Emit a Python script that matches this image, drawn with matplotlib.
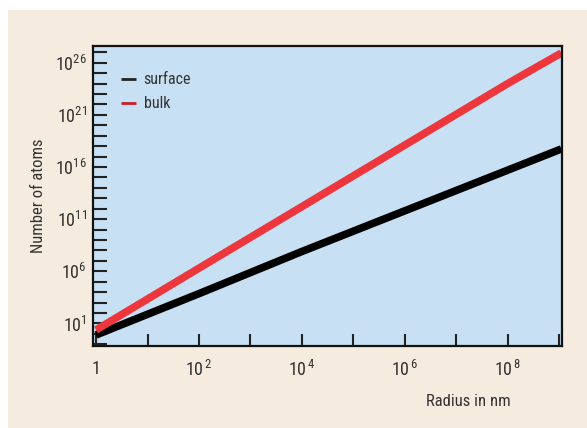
import math
import matplotlib
matplotlib.use("Agg")
import matplotlib.pyplot as plt
from matplotlib import font_manager
from matplotlib.patches import Rectangle
from matplotlib.ticker import FixedLocator, FuncFormatter, NullLocator

# values (log-log)
radius_nm = [1, 1e2, 1e4, 1e6, 1e8, 1.1e9]
bulk_atoms = [10**0.38, 10**6.3, 10**12.2, 10**18.1, 10**24.0, 10**26.93]
surface_atoms = [10**-0.1, 10**3.86, 10**7.9, 10**11.8, 10**15.7, 10**17.73]

x_label_exps = [0, 2, 4, 6, 8]
y_label_exps = [1, 6, 11, 16, 21, 26]

BEIGE = "#f5ecdf"
BLUE = "#c8e0f3"
RED = "#ee363d"


def pick_font():
    names = ["Roboto Condensed", "Liberation Sans Narrow",
             "DejaVu Sans Condensed", "Roboto", "DejaVu Sans"]
    for name in names:
        try:
            font_manager.findfont(name, fallback_to_default=False)
            return name
        except Exception:
            pass
    return "DejaVu Sans"


font = pick_font()
plt.rcParams["font.family"] = [font, "DejaVu Sans"]
plt.rcParams["mathtext.fontset"] = "custom"
plt.rcParams["mathtext.rm"] = font
plt.rcParams["mathtext.it"] = font
plt.rcParams["mathtext.default"] = "rm"


def xfmt(v, pos):
    e = int(round(math.log10(v)))
    if e not in x_label_exps:
        return ""
    if e == 0:
        return "1"
    return r"$10^{\,%d}$" % e


def yfmt(v, pos):
    e = int(round(math.log10(v)))
    if e not in y_label_exps:
        return ""
    return r"$10^{%d}$" % e


fig = plt.figure(figsize=(5.87, 4.28), dpi=100, facecolor="white")
fig.patches.append(Rectangle((8 / 587, 0), 1, 1 - 10 / 428,
                             transform=fig.transFigure, facecolor=BEIGE,
                             edgecolor="none", zorder=-10))

ax = fig.add_axes([92.7 / 587, 82 / 428, 469.6 / 587, 300 / 428])
ax.set_facecolor(BLUE)

ax.plot(radius_nm, surface_atoms, color="black", lw=5.5, solid_capstyle="butt",
        label="surface")
ax.plot(radius_nm, bulk_atoms, color=RED, lw=5.5, solid_capstyle="butt",
        label="bulk")

ax.set_xscale("log")
ax.set_yscale("log")
ax.set_xlim(10**-0.065, 10**9.06)
ax.set_ylim(10**-1.16, 10**27.6)

ax.xaxis.set_major_locator(FixedLocator([10.0**e for e in range(0, 10)]))
ax.xaxis.set_minor_locator(NullLocator())
ax.xaxis.set_major_formatter(FuncFormatter(xfmt))
ax.yaxis.set_major_locator(FixedLocator([10.0**e for e in range(-1, 28)]))
ax.yaxis.set_minor_locator(NullLocator())
ax.yaxis.set_major_formatter(FuncFormatter(yfmt))

ax.tick_params(axis="both", direction="in", width=1.5, colors="#222222",
               labelsize=13, labelcolor="#333333")
ax.tick_params(axis="x", length=9, pad=10)
ax.tick_params(axis="y", length=10, pad=4)

for s in ax.spines.values():
    s.set_linewidth(1.6)
    s.set_color("#111111")

ax.set_xlabel("Radius in nm", fontsize=12, color="#333333")
ax.xaxis.set_label_coords(0.8, -0.16)
ax.set_ylabel("Number of atoms", fontsize=12, color="#333333")
ax.yaxis.set_label_coords(-0.10, 0.5)

leg = ax.legend(loc="upper left", bbox_to_anchor=(0.03, 0.96), frameon=False,
                fontsize=11.5, handlelength=0.9, handletextpad=0.5,
                labelspacing=0.55, labelcolor="#333333")
for h, c in zip(leg.get_lines(), ["#222222", "#c8202a"]):
    h.set_linewidth(2)
    h.set_color(c)

fig.savefig("out.png", dpi=100, facecolor=fig.get_facecolor())
